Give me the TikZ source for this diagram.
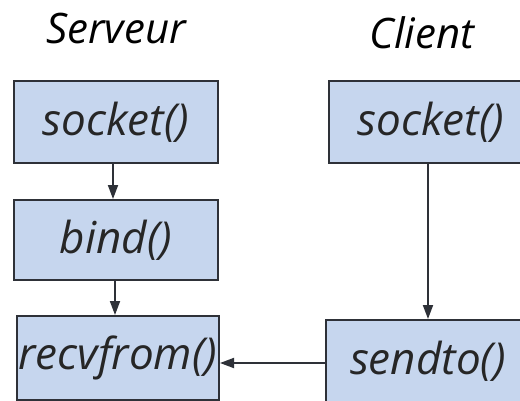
\documentclass[tikz,border=0pt]{standalone}
\usepackage{fontspec}
\setmainfont{Open Sans}
\usetikzlibrary{arrows.meta}
\definecolor{boxfill}{HTML}{C6D6EE}
\definecolor{boxline}{HTML}{2E3138}
\tikzset{
  fn/.style={draw=boxline, fill=boxfill, line width=2pt, rectangle, inner sep=0pt,
    font=\fontsize{44}{48}\selectfont\itshape, text=black!85},
  title/.style={font=\fontsize{42}{46}\selectfont\itshape, text=black},
  conn/.style={draw=boxline, line width=1.8pt, -{Triangle[length=14pt,width=10pt]}}
}
\begin{document}
\begin{tikzpicture}[x=1pt,y=-1pt]
\clip (0,0) rectangle (520,400);
\fill[white] (0,0) rectangle (520,400);
\node[title] (ts) at (116,28) {Serveur};
\node[title] (tc) at (422,33) {Client};
\node[fn, minimum width=204pt, minimum height=82pt] (s1) at (116,122) {socket()};
\node[fn, minimum width=204pt, minimum height=80pt] (s2) at (116,240) {bind()};
\node[fn, minimum width=202pt, minimum height=84pt] (s3) at (118,358) {recvfrom()};
\node[fn, minimum width=204pt, minimum height=82pt] (c1) at (431,122) {socket()};
\node[fn, minimum width=204pt, minimum height=82pt] (c2) at (428,361) {sendto()};
\draw[conn] (s1.south -| 113,0) -- (s2.north -| 113,0);
\draw[conn] (s2.south -| 115,0) -- (s3.north -| 115,0);
\draw[conn] (c1.south -| 428,0) -- (c2.north -| 428,0);
\draw[conn] (c2.west |- 0,363) -- (s3.east |- 0,363);
\end{tikzpicture}
\end{document}
